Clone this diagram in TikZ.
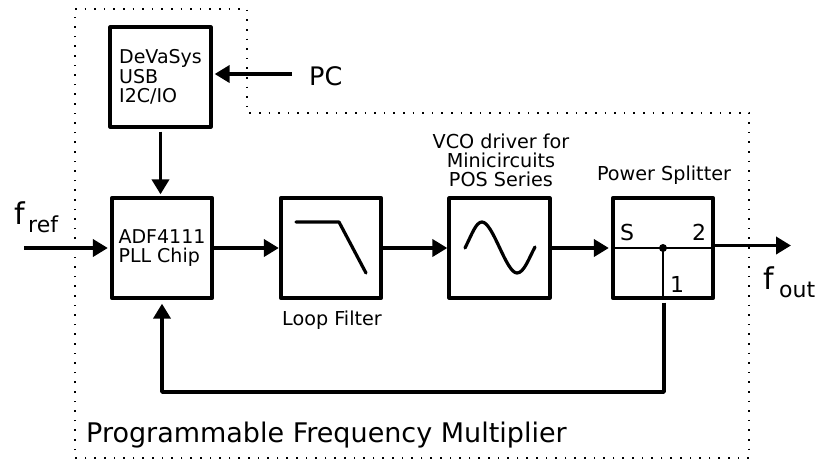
\documentclass[tikz,border=0pt]{standalone}
\usepackage{fontspec}
\setmainfont{DejaVu Sans}
\usetikzlibrary{arrows.meta}

\begin{document}
\begin{tikzpicture}[x=1pt,y=-1pt,>={Triangle[length=15pt,width=17pt]},
    block/.style={draw,line width=3.8pt,line join=round,minimum width=100.5pt,minimum height=99.5pt,
        align=left,font=\fontsize{19}{19.5}\selectfont,inner sep=0pt},
    link/.style={->,line width=3.8pt},
    small/.style={font=\fontsize{19.2}{19}\selectfont,align=center,inner sep=0pt},
    large/.style={font=\fontsize{27}{30}\selectfont,inner sep=0pt},
    port/.style={font=\fontsize{22}{24}\selectfont,inner sep=0pt}]

\useasboundingbox (0,0) rectangle (821,459);

% Dotted outline
\draw[line width=1.6pt,dash pattern=on 1.6pt off 8pt]
    (75,9)
    -- (247,9)
    -- (247,113)
    -- (749,113)
    -- (749,458)
    -- (75,458)
    -- cycle;

% Blocks
\node[block] (usb) at (160.5,77) {DeVaSys\\USB\\I2C/IO};
\node[block] (pll) at (162,248) {ADF4111\\PLL Chip};
\node[block] (filter) at (331,248) {};
\node[block] (vco) at (499.5,248) {};
\node[block] (splitter) at (663,248) {};

% Labels
\node[small,anchor=base] (filterlabel) at (332,325) {Loop Filter};
\node[small,anchor=base] (vcolabel) at (501,148) {VCO driver for};
\node[small,anchor=base] (vcolabelb) at (501,167) {Minicircuits};
\node[small,anchor=base] (vcolabelc) at (501,186) {POS Series};
\node[small,anchor=base] (splitterlabel) at (664,180) {Power Splitter};
\node[large,font=\fontsize{25.5}{28}\selectfont,anchor=base west] (pc) at (309,85) {PC};
\node[large,anchor=base west] (title) at (86,442) {Programmable Frequency Multiplier};

% Input and output
\node[large,font=\fontsize{30}{32}\selectfont,anchor=base west] (fref) at (14,224) {f};
\node[port,anchor=base west] (frefsub) at (28,232) {ref};
\node[large,font=\fontsize{30}{32}\selectfont,anchor=base west] (fout) at (763,289) {f};
\node[port,anchor=base west] (foutsub) at (779,297) {out};
\coordinate (in) at (24,248);
\coordinate (out) at (791,245.5);
\coordinate (pcend) at (292,74);
\coordinate (loop) at (664,392);

% Connectors
\draw[link] (pcend) -- ([xshift=2pt]pcend -| usb.east);
\draw[link] ([yshift=-3pt]usb.south) -- ([yshift=2pt]pll.north -| usb.south);
\draw[link] (in) -- ([xshift=-2pt]pll.west);
\draw[link] (pll.east) -- (filter.west);
\draw[link] (filter.east) -- (vco.west);
\draw[link] (vco.east) -- ([xshift=-2pt]splitter.west);
\draw[link] (splitter.east |- out) -- (out);
\draw[link,line join=round] ([yshift=-3pt]splitter.south -| loop) -- (loop)
    -- (loop -| pll.south) -- ([yshift=-4pt]pll.south);

% Filter response
\draw[line width=3.2pt,line cap=round,line join=round]
    (296,222) -- (339,222) -- (366,273);

% Sine
\draw[line width=3.2pt,line cap=round]
    (465,248) .. controls (472,234) and (476,222) .. (482,222)
    .. controls (493,222) and (506,273) .. (517,273)
    .. controls (524,273) and (529,258) .. (535,247);

% Splitter inside
\draw[line width=1.8pt] (splitter.west) -- (splitter.east);
\draw[line width=1.8pt] (splitter.center) -- (splitter.south);
\fill (splitter.center) circle (4);
\node[port,anchor=base] (portS) at (627,240) {S};
\node[port,anchor=base] (portb) at (699,240) {2};
\node[port,anchor=base] (porta) at (677,292) {1};

\end{tikzpicture}
\end{document}
